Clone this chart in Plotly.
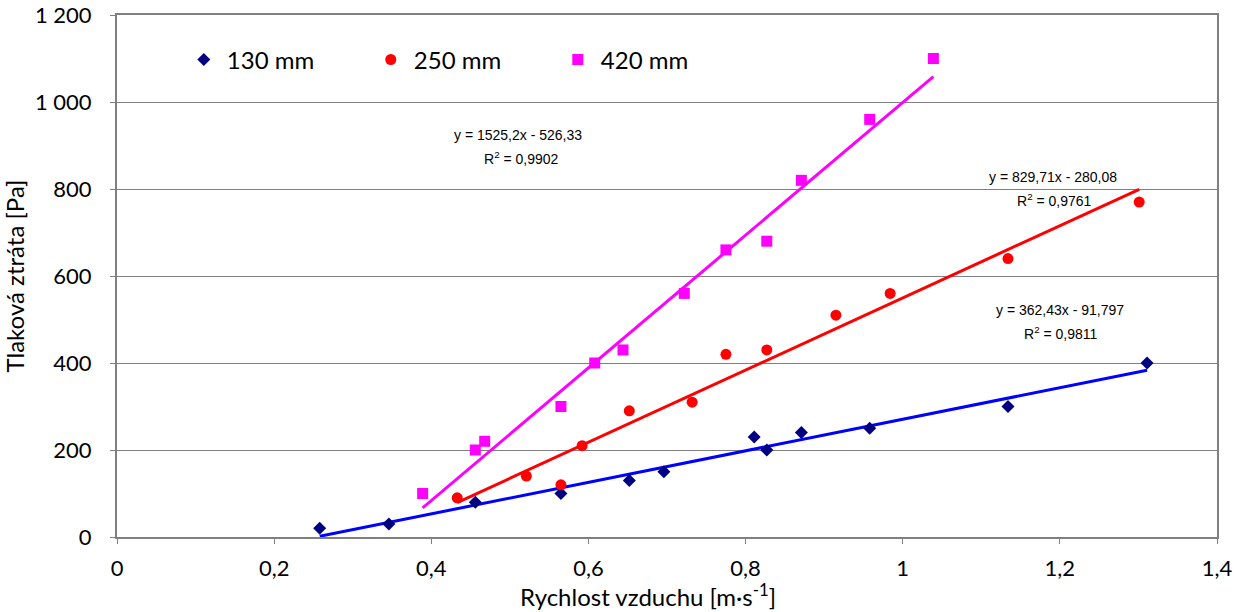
import plotly.graph_objects as go

# Measured air velocity [m/s] and pressure loss [Pa] for three duct diameters
x_130 = [0.258, 0.346, 0.456, 0.565, 0.652, 0.696, 0.811, 0.827, 0.871, 0.958, 1.134, 1.311]
y_130 = [20, 30, 80, 100, 130, 150, 230, 200, 240, 250, 300, 400]

x_250 = [0.433, 0.521, 0.565, 0.592, 0.652, 0.732, 0.775, 0.827, 0.915, 0.984, 1.134, 1.301]
y_250 = [90, 140, 120, 210, 290, 310, 420, 430, 510, 560, 640, 770]

x_420 = [0.389, 0.456, 0.468, 0.565, 0.608, 0.644, 0.722, 0.775, 0.827, 0.871, 0.958, 1.039]
y_420 = [100, 200, 220, 300, 400, 430, 560, 660, 680, 820, 960, 1100]

series_names = ["130 mm", "250 mm", "420 mm"]

# Linear trend coefficients (slope, intercept) and R² values
slopes = [362.43, 829.71, 1525.2]
intercepts = [-91.797, -280.08, -526.33]
r_squared = [0.9811, 0.9761, 0.9902]

x_ticks = [0, 0.2, 0.4, 0.6, 0.8, 1.0, 1.2, 1.4]
y_ticks = [0, 200, 400, 600, 800, 1000, 1200]

marker_colors = ["#000080", "#FF0000", "#FF00FF"]
line_colors = ["#0000FF", "#FF0000", "#FF00FF"]
symbols = ["diamond", "circle", "square"]
marker_sizes = [10, 11, 11]

xs = [x_130, x_250, x_420]
ys = [y_130, y_250, y_420]

fig = go.Figure()

for i in range(3):
    x0, x1 = min(xs[i]), max(xs[i])
    fig.add_trace(go.Scatter(
        x=[x0, x1],
        y=[slopes[i] * x0 + intercepts[i], slopes[i] * x1 + intercepts[i]],
        mode="lines",
        line=dict(color=line_colors[i], width=3),
        showlegend=False,
        hoverinfo="skip",
    ))

for i in range(3):
    fig.add_trace(go.Scatter(
        x=xs[i], y=ys[i],
        mode="markers",
        name=series_names[i],
        marker=dict(symbol=symbols[i], color=marker_colors[i], size=marker_sizes[i],
                    line=dict(width=0)),
    ))


def fmt(v, nd):
    return f"{v:.{nd}f}".replace(".", ",")


def eq_text(i):
    s = fmt(slopes[i], 2).rstrip("0").rstrip(",")
    b = f"{abs(intercepts[i]):.5g}".replace(".", ",")
    return f"y = {s}x - {b}"


# (equation x, equation y, R² x, R² y) in data units
label_pos = [(1.200, 523, 1.202, 470), (1.191, 828, 1.193, 775), (0.510, 925, 0.515, 872)]
ann_font = dict(family="Liberation Sans, Arial, sans-serif", size=14, color="#000000")
for i in range(3):
    ex, ey, rx, ry = label_pos[i]
    fig.add_annotation(x=ex, y=ey, text=eq_text(i), showarrow=False, font=ann_font,
                       xanchor="center", yanchor="middle")
    fig.add_annotation(x=rx, y=ry, text=f"R<sup>2</sup> = {fmt(r_squared[i], 4)}",
                       showarrow=False, font=ann_font, xanchor="center", yanchor="middle")

tick_font = dict(family="Lato, Open Sans, sans-serif", size=22, color="#000000")
title_font = dict(family="Lato, Open Sans, sans-serif", size=24, color="#000000")

fig.add_annotation(xref="paper", yref="paper", x=0.483, y=0, yshift=-58,
                   text="Rychlost vzduchu [m·s<sup>-1</sup>]", showarrow=False,
                   font=title_font, xanchor="center", yanchor="middle")

fig.update_layout(
    width=1242, height=612,
    margin=dict(l=117, r=25, t=15, b=75, autoexpand=False),
    paper_bgcolor="white", plot_bgcolor="white",
    separators=", ",
    font=dict(family="Lato, Open Sans, sans-serif", color="#000000"),
    legend=dict(
        orientation="h", x=0.058, y=0.914, xanchor="left", yanchor="middle",
        font=dict(family="Lato, Open Sans, sans-serif", size=24, color="#000000"),
        bgcolor="rgba(0,0,0,0)", entrywidth=136, itemwidth=36,
    ),
    xaxis=dict(
        range=[0, 1.4], tickvals=x_ticks, ticks="outside", ticklen=5, tickcolor="#808080",
        ticklabelstandoff=6,
        showgrid=False, zeroline=False, showline=True, linecolor="#808080", linewidth=2,
        mirror=True, tickfont=tick_font, automargin=False,
    ),
    yaxis=dict(
        range=[0, 1200], tickvals=y_ticks, ticks="outside", ticklen=5, tickcolor="#808080",
        ticklabelstandoff=14,
        separatethousands=True, automargin=False,
        showgrid=True, gridcolor="#808080", gridwidth=1, zeroline=False,
        showline=True, linecolor="#808080", linewidth=2, mirror=True, tickfont=tick_font,
        title=dict(text="Tlaková ztráta [Pa]", font=title_font, standoff=10),
    ),
)

fig.write_html("out.html")
